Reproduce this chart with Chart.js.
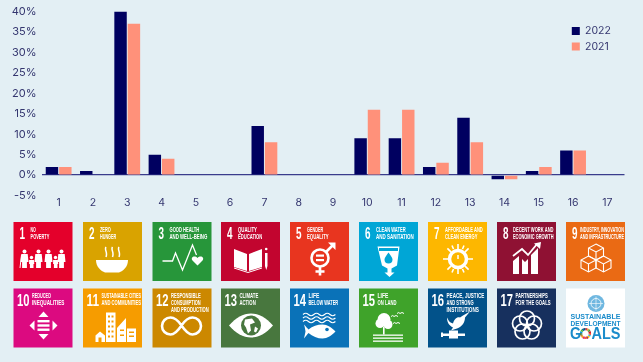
<!DOCTYPE html>
<html><head><meta charset="utf-8">
<style>
html,body{margin:0;padding:0;width:643px;height:362px;background:#e3eff4;overflow:hidden}
#c{position:absolute;left:0;top:0;filter:blur(.3px)}
#t{position:absolute;left:0;top:0;filter:blur(.35px)}
</style>
<script src="https://cdn.jsdelivr.net/npm/chart.js@4/dist/chart.umd.min.js"></script>
</head><body>
<canvas id="c" width="643" height="215"></canvas>
<svg id="t" width="643" height="362" xmlns="http://www.w3.org/2000/svg"></svg>
<script>
const categories = ['1','2','3','4','5','6','7','8','9','10','11','12','13','14','15','16','17'];
const values2022 = [2,1,40,5,0,0,12,0,0,9,9,2,14,-1,1,6,0];
const values2021 = [2,0,37,4,0,0,8,0,0,16,16,3,8,-1,2,6,0];
const goalTitles = [
 ['NO','POVERTY'],['ZERO','HUNGER'],['GOOD HEALTH','AND WELL-BEING'],['QUALITY','EDUCATION'],['GENDER','EQUALITY'],
 ['CLEAN WATER','AND SANITATION'],['AFFORDABLE AND','CLEAN ENERGY'],['DECENT WORK AND','ECONOMIC GROWTH'],['INDUSTRY, INNOVATION','AND INFRASTRUCTURE'],
 ['REDUCED','INEQUALITIES'],['SUSTAINABLE CITIES','AND COMMUNITIES'],['RESPONSIBLE','CONSUMPTION','AND PRODUCTION'],['CLIMATE','ACTION'],
 ['LIFE','BELOW WATER'],['LIFE','ON LAND'],['PEACE, JUSTICE','AND STRONG','INSTITUTIONS'],['PARTNERSHIPS','FOR THE GOALS']];
const goalColors = ['#e4002b','#d9a300','#27963a','#c2052f','#e8351f','#00a6d6','#fdb700','#8f1133','#ea6a14',
 '#dc0a80','#f69c00','#cc8800','#48773e','#0a72b8','#3fa32a','#02528a','#17305e'];

const ink = '#34366f';
const fontFamily = 'Inter, "Noto Sans", sans-serif';
const legendSpot = {
  id:'legendSpot',
  beforeDraw(ch){ const l=ch.legend; const w=l.width,h=l.height; l.left=566.8;l.right=566.8+w;l.top=20.75;l.bottom=20.75+h; }
};
new Chart(document.getElementById('c'),{
  type:'bar',
  data:{labels:categories,datasets:[
    {label:'2022',data:values2022,backgroundColor:'#000060',categoryPercentage:0.78,barPercentage:0.93},
    {label:'2021',data:values2021,backgroundColor:'#ff917a',categoryPercentage:0.78,barPercentage:0.93}
  ]},
  plugins:[legendSpot],
  options:{
    responsive:false,animation:false,devicePixelRatio:1,
    layout:{padding:{top:11.5,right:18.5,left:0,bottom:0}},
    plugins:{tooltip:{enabled:false},
      legend:{position:'chartArea',align:'start',
        labels:{boxWidth:8,boxHeight:8,padding:5,color:ink,font:{family:fontFamily,size:10.5}}}},
    scales:{
      x:{offset:true,grid:{display:false,drawTicks:false},border:{display:false},
        afterFit(s){s.height=19.5},
        ticks:{color:ink,font:{family:fontFamily,size:10.5},padding:1,maxRotation:0,autoSkip:false}},
      y:{min:-5,max:40,border:{display:false},
        afterFit(s){s.width=41.5},
        grid:{drawTicks:false,lineWidth:1.3,color:c=>c.tick.value===0?'#3a3c8c':'transparent'},
        ticks:{stepSize:5,color:ink,padding:5,font:{family:fontFamily,size:11},callback:v=>v+'%'}}
    }
  }
});

const W='#fff';
const adult=x=>`<circle cx="${x}" cy="29.5" r="2"/><path d="M${x-3.2} 32h6.4l.8 8h-1.6v6h-4.8v-6h-1.6z"/>`;
const kid=x=>`<circle cx="${x}" cy="35.5" r="1.7"/><path d="M${x-2.4} 38h4.8l.4 4h-.8v4h-3.6v-4h-.8z"/>`;
const goalIcons = [
 adult(11)+kid(18)+adult(25)+adult(35)+kid(42)+adult(48)+`<path d="M6.5 46l1.5-13" stroke="#fff" fill="none"/>`,
 `<path d="M13 38h32c0 7-5 11-9 12.500h-14c-4-1.500-9-5.500-9-12.500z"/><g fill="none" stroke="#fff" stroke-width="1.500"><path d="M23 25c-2 3 2 5 0 10"/><path d="M29.500 25c-2 3 2 5 0 10"/><path d="M36 25c-2 3 2 5 0 10"/></g>`,
 `<path d="M10 39h10l3-8 7 17 10-25 4 10" fill="none" stroke="#fff" stroke-width="1.300"/><path d="M45 43.500l-5-5c-2.500-3 2-6 5-2.500 3-3.500 7.500-.5 5 2.500z"/>`,
 `<path d="M13 27l13 5v17l-13-4zM41 27l-13 5v17l13-4z"/><path d="M13 46l14 4.500 14-4.500" fill="none" stroke="#fff"/><path d="M44 31h2.500v13l-1.200 4-1.300-4z"/><circle cx="45.200" cy="27" r="1.300"/>`,
 `<g fill="none" stroke="#fff" stroke-width="2.600"><circle cx="30" cy="36" r="8.500"/><path d="M30 44.500v9M25.500 49.500h9M36 30l7-7"/></g><path d="M38 20.500h7.500v7.500z"/><rect x="26" y="32.500" width="8" height="2.200"/><rect x="26" y="37" width="8" height="2.200"/>`,
 `<path d="M18.500 24.500h22l-2.500 19-5.500 3v4h3l-5 4.500-5-4.500h3v-4l-5.500-3z"/><path d="M20 26h19v3h-19z" fill="#00a6d6"/><path d="M29.500 30.500c2 3 4 5 4 7a4 4 0 0 1-8 0c0-2 2-4 4-7z" fill="#00a6d6"/>`,
 `<circle cx="30" cy="37" r="8.500" fill="none" stroke="#fff" stroke-width="3.500"/><path d="M30 33v4" stroke="#fff" stroke-width="1.500"/><g stroke="#fff" stroke-width="1.600" fill="none"><path d="M30 22v5M30 47v5M15 37h5M40 37h5M19.400 26.400l3.500 3.500M37.100 44.100l3.500 3.500M40.600 26.400l-3.500 3.500M22.900 44.100l-3.500 3.500M24 23.500l1.500 3.500M34.500 47l1.500 3.500M36 23.500l-1.500 3.500M25.500 47l-1.500 3.500"/></g>`,
 `<path d="M16 52v-13l6-5v18zM25 52v-15l3 3 3-3v15zM34 52v-19l7-7v26z"/><path d="M16 34l9-7 6 6 9-11" fill="none" stroke="#fff" stroke-width="1.800"/><path d="M37 21.500l7-1.500-1 7z"/>`,
 `<g fill="none" stroke="#fff" stroke-width="1.100"><path d="M30 22l7.500 4v8l-7.500 4-7.500-4v-8zM22.500 26l7.500 4 7.500-4M30 30v8"/><path d="M22.500 34l7.500 4v8l-7.500 4-7.500-4v-8zM15 38l7.500 4 7.500-4M22.500 42v8"/><path d="M37.500 34l7.500 4v8l-7.500 4-7.500-4v-8zM30 38l7.500 4 7.500-4M37.500 42v8"/></g>`,
 `<path d="M30 23l5 5.500h-10zM30 51l5-5.500h-10zM16 37l5-5v10zM44 37l-5-5v10z"/><rect x="24" y="31.500" width="12" height="2.400"/><rect x="24" y="35.800" width="12" height="2.400"/><rect x="24" y="40" width="12" height="2.400"/>`,
 `<path d="M12.500 47l4.500-4 5 4v6.500h-9.500zM23 24h9.500v29.500h-9.500z"/><path d="M34 53.500v-14l9-10v24zM44 40h9v13.500h-9z"/><g fill="#f69c00"><rect x="25" y="27" width="2" height="2"/><rect x="28.500" y="27" width="2" height="2"/><rect x="25" y="32" width="2" height="2"/><rect x="28.500" y="32" width="2" height="2"/><rect x="25" y="37" width="2" height="2"/><rect x="28.500" y="37" width="2" height="2"/><rect x="25" y="42" width="2" height="2"/><rect x="28.500" y="42" width="2" height="2"/><rect x="25" y="47" width="2" height="2"/><rect x="28.500" y="47" width="2" height="2"/><rect x="15.500" y="49" width="3" height="4.500"/><rect x="46" y="43" width="5" height="1.500"/><rect x="46" y="47" width="5" height="1.500"/><rect x="37" y="41" width="4" height="1.500"/><rect x="37" y="46" width="4" height="1.500"/></g>`,
 `<path d="M29 37c-4-6-7-8-11-8a8.500 8.500 0 0 0 0 17c4 0 7-3 11-9s7-8 11-8a8.500 8.500 0 0 1 0 17c-4 0-7-3-11-9z" fill="none" stroke="#fff" stroke-width="2.600"/>`,
 `<path d="M8 37c7-8 14-12 22-12s15 4 22 12c-7 8-14 12-22 12s-15-4-22-12z"/><circle cx="30" cy="37" r="10" fill="#48773e"/><path d="M24 31l7-1 3 4-5 2 1 6-3 3-2-6-2-3zM34 38l3 2-2 4-2-1z"/>`,
 `<g fill="none" stroke="#fff" stroke-width="1.100"><path d="M13 26q2.700-2.500 5.400 0t5.400 0 5.400 0 5.400 0 5.400 0 5.400 0"/><path d="M13 29.500q2.700-2.500 5.400 0t5.400 0 5.400 0 5.400 0 5.400 0 5.400 0"/><path d="M13 33q2.700-2.500 5.400 0t5.400 0 5.400 0 5.400 0 5.400 0 5.400 0"/></g><path d="M14 36c2 2 3.500 4 4.500 5 4-3.500 9-5 14-5 5 0 9 3 13 7-4 4-8 7-13 7-5 0-10-2-14-5.500-1 1-3 3.500-4.500 5.500 1-4 1.500-7 1.500-7s-.5-4-1.500-7z"/><circle cx="37" cy="41" r="1.800" fill="#0a72b8"/>`,
 `<circle cx="25" cy="31" r="6.500"/><circle cx="21" cy="35" r="4.500"/><circle cx="29" cy="36" r="4.500"/><rect x="24" y="38" width="1.600" height="8"/><rect x="14" y="46" width="30" height="1.300"/><rect x="14" y="49" width="30" height="1.300"/><rect x="14" y="52" width="30" height="1.300"/><g fill="none" stroke="#fff"><path d="M32 28q2-2 3 0 2-2 4 0M38 25q2-2 3 0 2-2 4 0M34 35q2-2 3 0 2-2 4 0"/></g>`,
 `<path d="M19 29c2 4 3 5 6 6 1-4 4-7 7-6l3-2 7-4-5 6c0 5-3 9-8 11l-6 2 2-3c-4-2-6-5-6-10z"/><rect x="15" y="45" width="22" height="2.500"/><rect x="21" y="42" width="9" height="8"/><rect x="13" y="44" width="2" height="4.500"/>`,
 `<g fill="none" stroke="#fff" stroke-width="1.700"><circle cx="30" cy="30" r="7.500"/><circle cx="23" cy="35" r="7.500"/><circle cx="37" cy="35" r="7.500"/><circle cx="25.500" cy="43" r="7.500"/><circle cx="34.500" cy="43" r="7.500"/></g>`
];

const ringColors=['#e5243b','#dda63a','#4c9f38','#c5192d','#ff3a21','#26bde2','#fcc30b','#a21942','#fd6925','#dd1367','#fd9d24','#bf8b2e','#3f7e44','#0a97d9','#56c02b','#00689d','#19486a'];
const columnsX=[13.5,83,152.5,221,290,359,428,497,566];
const rowsY=[222,288.5];
const size=59;
let out='';
function line(x,y,txt,len,fs,fill,extra){
  return `<text x="${x}" y="${y}" font-family="'Liberation Sans Narrow','Liberation Sans',sans-serif" font-size="${fs}" ${extra||'font-weight="bold"'} fill="${fill}" textLength="${len}" lengthAdjust="spacingAndGlyphs">${txt}</text>`;
}
goalTitles.forEach((lines,i)=>{
  const col=i<9?i:i-9, row=i<9?0:1, x=columnsX[col], y=rowsY[row];
  const n=String(i+1);
  const two=n.length>1;
  out+=`<g transform="translate(${x} ${y})"><rect width="${size}" height="${size}" fill="${goalColors[i]}"/>`;
  out+=line(two?3.5:6,17,n,two?12.5:5.5,17,W);
  lines.forEach((t,k)=>{
    const tx=two?18.5:(i===8?14:i===7?16:17);
    out+=line(tx,9.8+k*6.9,t,Math.min(t.length*2.7,size-tx-1),7.6,'#fff','font-weight="bold"');
  });
  out+=`<g fill="#fff">${goalIcons[i]}</g></g>`;
});
// logo tile
{
  const x=columnsX[8],y=rowsY[1];
  let ring='';
  const cx=19.5,cy=45,r=4.4;
  ringColors.forEach((c,i)=>{
    const a0=i/17*2*Math.PI-Math.PI/2,a1=(i+1)/17*2*Math.PI-Math.PI/2;
    ring+=`<path d="M${cx+r*Math.cos(a0)} ${cy+r*Math.sin(a0)}A${r} ${r} 0 0 1 ${cx+r*Math.cos(a1)} ${cy+r*Math.sin(a1)}" stroke="${c}" stroke-width="2.400" fill="none"/>`;
  });
  out+=`<g transform="translate(${x} ${y})"><rect width="${size}" height="${size}" fill="#fff"/>`+
   `<circle cx="30" cy="15" r="8.500" fill="#6fb7e0"/><circle cx="30" cy="15" r="5" fill="none" stroke="#fff" stroke-width=".8"/><path d="M30 8v14M23 15h14" stroke="#fff" stroke-width=".6"/>`+
   line(4.500,30,'SUSTAINABLE',50,7.500,'#1b8ccb')+line(4.500,37.500,'DEVELOPMENT',50,7.500,'#1b8ccb')+
   line(4,50.500,'G',11,16,'#1b8ccb')+ring+line(25.500,50.500,'ALS',29,16,'#1b8ccb')+`</g>`;
}
document.getElementById('t').innerHTML=out;
</script>
</body></html>
